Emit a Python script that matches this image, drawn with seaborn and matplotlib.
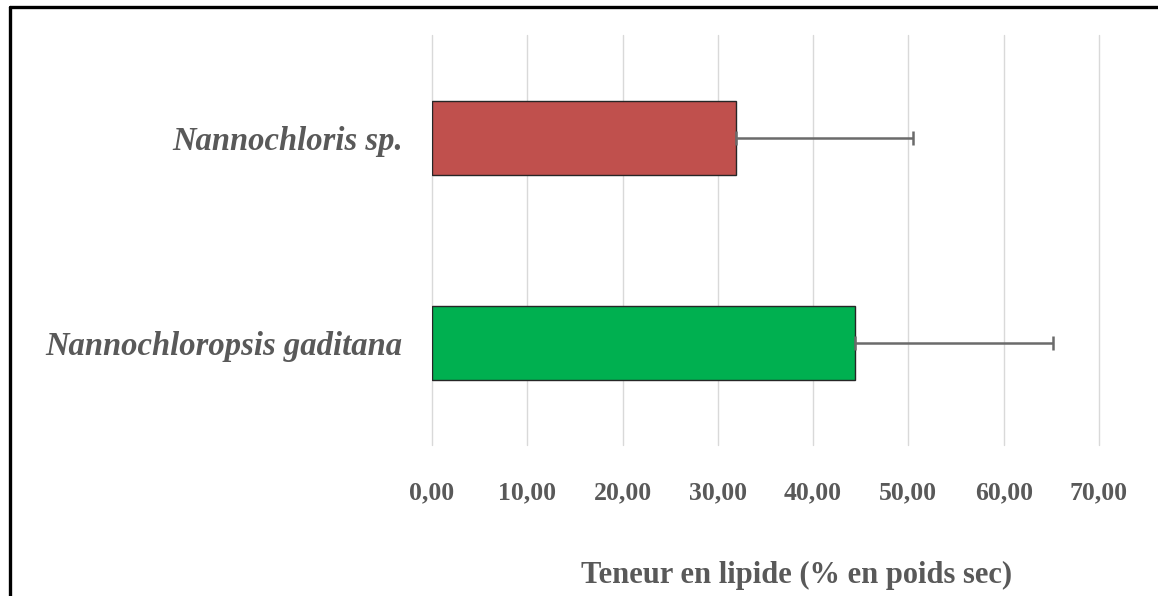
import pandas as pd
import matplotlib
matplotlib.use("Agg")
import matplotlib.pyplot as plt
from matplotlib.lines import Line2D
import seaborn as sns

species = ["Nannochloris sp.", "Nannochloropsis gaditana"]
lipid = [31.9, 44.4]
lipid_err = [18.6, 20.8]
bar_colors = ["#C0504D", "#00B050"]
ticks = [0, 10, 20, 30, 40, 50, 60, 70]
tick_labels = ["0,00", "10,00", "20,00", "30,00", "40,00", "50,00", "60,00", "70,00"]

df = pd.DataFrame({"species": species, "lipid": lipid})

sns.set_style("white")
plt.rcParams["font.family"] = ["Liberation Serif", "DejaVu Serif"]
text_gray = "#595959"

fig = plt.figure(figsize=(11.58, 5.96), dpi=100)
ax = fig.add_axes([0.373, 0.253, 0.576, 0.688])

sns.barplot(data=df, x="lipid", y="species", hue="species", palette=bar_colors,
            order=species, width=0.36, edgecolor="#262626", linewidth=1.0,
            saturation=1, legend=False, ax=ax, zorder=3)

# plus-only error bars, like the original
ax.errorbar(lipid, [0, 1], xerr=[[0, 0], lipid_err], fmt="none",
            ecolor="#6b6b6b", elinewidth=1.8, capsize=5, capthick=1.8, zorder=4)

ax.set_xlim(0, 70)
ax.set_ylim(1.5, -0.5)
ax.set_xticks(ticks)
ax.set_xticklabels(tick_labels)
ax.grid(axis="x", color="#d9d9d9", linewidth=1.0, zorder=0)
for gl in ax.get_xgridlines():
    gl.set_clip_on(False)
ax.set_axisbelow(True)
for s in ax.spines.values():
    s.set_visible(False)

ax.tick_params(axis="x", length=0, pad=26, labelsize=18.5, labelcolor=text_gray)
ax.tick_params(axis="y", length=0, pad=21, labelsize=23.5, labelcolor=text_gray)
for lab in ax.get_xticklabels():
    lab.set_fontweight("bold")
for lab in ax.get_yticklabels():
    lab.set_fontweight("bold")
    lab.set_fontstyle("italic")

ax.set_ylabel("")
ax.set_xlabel("Teneur en lipide (% en poids sec)", fontsize=22, fontweight="bold",
              color=text_gray)
ax.xaxis.set_label_coords(0.546, -0.283)

# frame of the pasted picture (top and left edges only)
fig.add_artist(Line2D([0.0086, 1.0], [0.988, 0.988], transform=fig.transFigure,
                      color="black", linewidth=2.4))
fig.add_artist(Line2D([0.0086, 0.0086], [0.0, 0.988], transform=fig.transFigure,
                      color="black", linewidth=2.4))

fig.savefig("out.png", dpi=100, facecolor="white")
